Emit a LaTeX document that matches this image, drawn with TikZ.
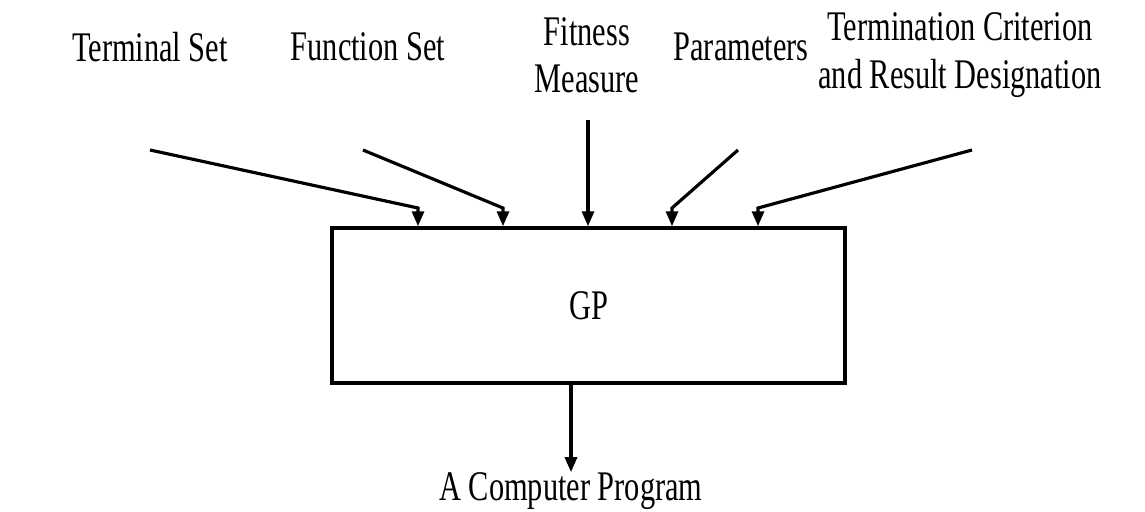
\documentclass[tikz,border=0pt]{standalone}
\usepackage{fontspec}
\setmainfont{Liberation Serif}[FakeStretch=0.72]
\usetikzlibrary{calc, arrows.meta}

\begin{document}
\begin{tikzpicture}[x=0.02cm, y=-0.02cm,
        lbl/.style={align=center, font=\fontsize{24}{27}\selectfont, inner sep=0pt},
        feed/.style={line width=1.8pt, -{Triangle[length=0.3cm, width=0.24cm]}}]
    \useasboundingbox (0, 0) rectangle (1145, 511);
    % inputs
    \node[lbl] (term) at (150, 47) {Terminal Set};
    \node[lbl] (func) at (368, 47) {Function Set};
    \node[lbl] (fit) at (587, 55) {Fitness\\Measure};
    \node[lbl] (par) at (741, 47) {Parameters};
    \node[lbl] (crit) at (960, 55) {Termination Criterion\\and Result Designation};
    % the box
    \node[draw, line width=2pt, minimum width=10.26cm, minimum height=3.1cm,
          lbl] (gp) at (588.5, 305.5) {GP};
    \node[lbl] (prog) at (571, 491) {A Computer Program};
    % start and bend points
    \coordinate (s1) at (150, 150);
    \coordinate (s2) at (363, 150);
    \coordinate (s3) at (588, 120);
    \coordinate (s4) at (738, 150);
    \coordinate (s5) at (972, 150);
    \foreach \i/\x in {1/418, 2/503, 4/672, 5/758} {
        \coordinate (b\i) at (\x, 208);
        \draw[feed] (s\i) -- (b\i) -- (b\i |- gp.north);
    }
    \draw[feed] (s3) -- (s3 |- gp.north);
    \draw[feed] (gp.south -| prog) -- (prog.north);
\end{tikzpicture}
\end{document}
